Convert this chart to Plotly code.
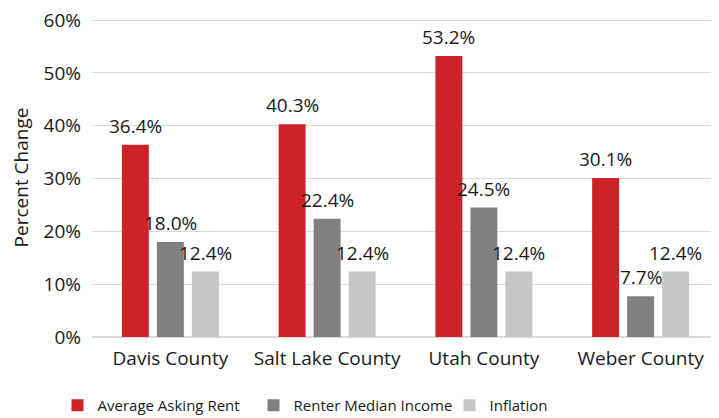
import plotly.graph_objects as go

counties = ["Davis County", "Salt Lake County", "Utah County", "Weber County"]
rent = [36.4, 40.3, 53.2, 30.1]
income = [18.0, 22.4, 24.5, 7.7]
inflation = [12.4, 12.4, 12.4, 12.4]
y_ticks = [0, 10, 20, 30, 40, 50, 60]
y_tick_labels = ["0%", "10%", "20%", "30%", "40%", "50%", "60%"]

series = [
    ("Average Asking Rent", rent, "#CC2229"),
    ("Renter Median Income", income, "#808080"),
    ("Inflation", inflation, "#C6C6C6"),
]

font_family = "Open Sans"
txt_color = "#1a1a1a"
fig = go.Figure()
slot_px = 35
for i, (name, vals, color) in enumerate(series):
    fig.add_trace(go.Bar(
        x=counties, y=vals, name=name,
        marker=dict(color=color, line=dict(width=0)),
    ))
    for c, v in zip(counties, vals):
        fig.add_annotation(
            x=c, y=v, xref="x", yref="y", text=f"{v:.1f}%", showarrow=False,
            xshift=(i - 1) * slot_px, yshift=4, yanchor="bottom",
            font=dict(size=19, color=txt_color, family=font_family),
        )

# page has an 8px body margin, so the figure is sized to fit inside 719x418
fig.update_layout(
    width=711, height=410,
    margin=dict(l=84, r=0, t=10, b=81, autoexpand=False),
    barmode="group", bargap=0.33, bargroupgap=0.23,
    plot_bgcolor="white", paper_bgcolor="white",
    font=dict(family=font_family, size=19, color=txt_color),
    showlegend=True,
    legend=dict(orientation="h", x=-0.055, xanchor="left", y=-0.2145, yanchor="middle",
                font=dict(size=15), traceorder="normal",
                entrywidth=151, entrywidthmode="pixels"),
    yaxis=dict(range=[0, 60.4], tickvals=y_ticks, ticktext=y_tick_labels,
               showgrid=True, automargin=False, ticklabeloverflow="allow",
               gridcolor="#D9D9D9", gridwidth=1, zeroline=True, zerolinecolor="#D9D9D9",
               title=dict(text="Percent Change", standoff=12, font=dict(size=19)),
               tickfont=dict(size=19), ticklabelstandoff=10),
    xaxis=dict(showline=False, tickfont=dict(size=19), ticks="", automargin=False,
               ticklabelstandoff=8),
)
fig.write_html("out.html")
